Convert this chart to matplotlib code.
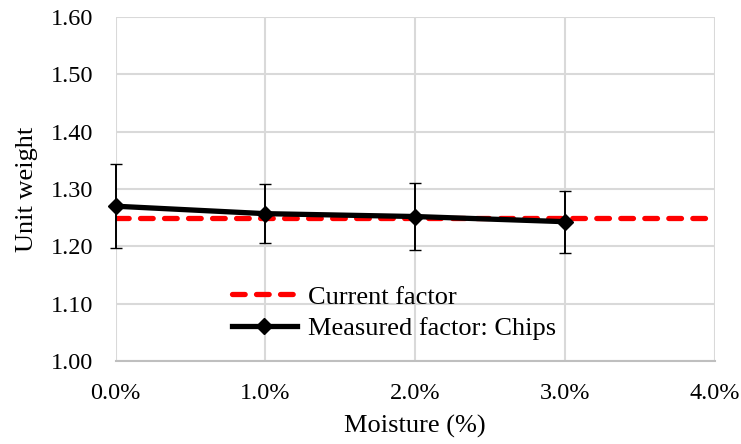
import matplotlib
matplotlib.use("Agg")
import matplotlib.pyplot as plt
from matplotlib.lines import Line2D
from matplotlib.ticker import FuncFormatter

# Moisture content (fraction) and measured unit weight factors for chips
moisture = [0.00, 0.01, 0.02, 0.03]
measured = [1.270, 1.257, 1.252, 1.243]
measured_err = [0.073, 0.052, 0.058, 0.054]

# Current design factor applied across the full moisture range
current_x = [0.00, 0.04]
current_factor = [1.25, 1.25]

plt.rcParams["font.family"] = ["Liberation Serif", "DejaVu Serif"]
TICK_FS = 17.5
FS = 19

fig = plt.figure(figsize=(7.41, 4.44), dpi=100)
ax = fig.add_axes([115.5 / 741, 1 - 361 / 444, (714.5 - 115.5) / 741, (361 - 17) / 444])

red_ls = (0, (2.4, 2.15))
ax.plot(current_x, current_factor, color="#ff0000", lw=3.8, ls=red_ls,
        dash_capstyle="round", zorder=3)
ax.errorbar(moisture, measured, yerr=measured_err, color="black", lw=3.8,
            marker="D", ms=8, mew=1, ecolor="black", elinewidth=1.4,
            capsize=4.5, capthick=1.4, zorder=4, clip_on=False)

ax.set_xlim(0, 0.04)
ax.set_ylim(1.00, 1.60)
ax.set_xticks([0.00, 0.01, 0.02, 0.03, 0.04])
ax.set_yticks([1.00, 1.10, 1.20, 1.30, 1.40, 1.50, 1.60])
ax.xaxis.set_major_formatter(FuncFormatter(lambda v, p: f"{v * 100:.1f}%"))
ax.yaxis.set_major_formatter(FuncFormatter(lambda v, p: f"{v:.2f}"))
ax.tick_params(axis="both", length=0, labelsize=TICK_FS, colors="black")
ax.tick_params(axis="y", pad=16)
ax.tick_params(axis="x", pad=16)

ax.grid(True, color="#d9d9d9", lw=1.5)
ax.set_axisbelow(True)
for side in ["top", "right", "left"]:
    ax.spines[side].set_visible(False)
ax.spines["bottom"].set_color("#bfbfbf")
ax.spines["bottom"].set_linewidth(1.5)

ax.set_xlabel("Moisture (%)", fontsize=FS, labelpad=8)
ax.set_ylabel("Unit weight", fontsize=FS, labelpad=9)

handles = [
    Line2D([], [], color="#ff0000", lw=3.8, ls=red_ls, dash_capstyle="round"),
    Line2D([], [], color="black", lw=3.8, marker="D", ms=8, mew=1),
]
labels = ["Current factor", "Measured factor: Chips"]
ax.legend(handles, labels, loc="center left",
          bbox_to_anchor=((232 - 115.5) / 599, (361 - 312.5) / 344),
          frameon=False, fontsize=FS, handlelength=2.45, handletextpad=0.42,
          labelspacing=0.3, borderpad=0, borderaxespad=0)

fig.savefig("out.png", dpi=100)
